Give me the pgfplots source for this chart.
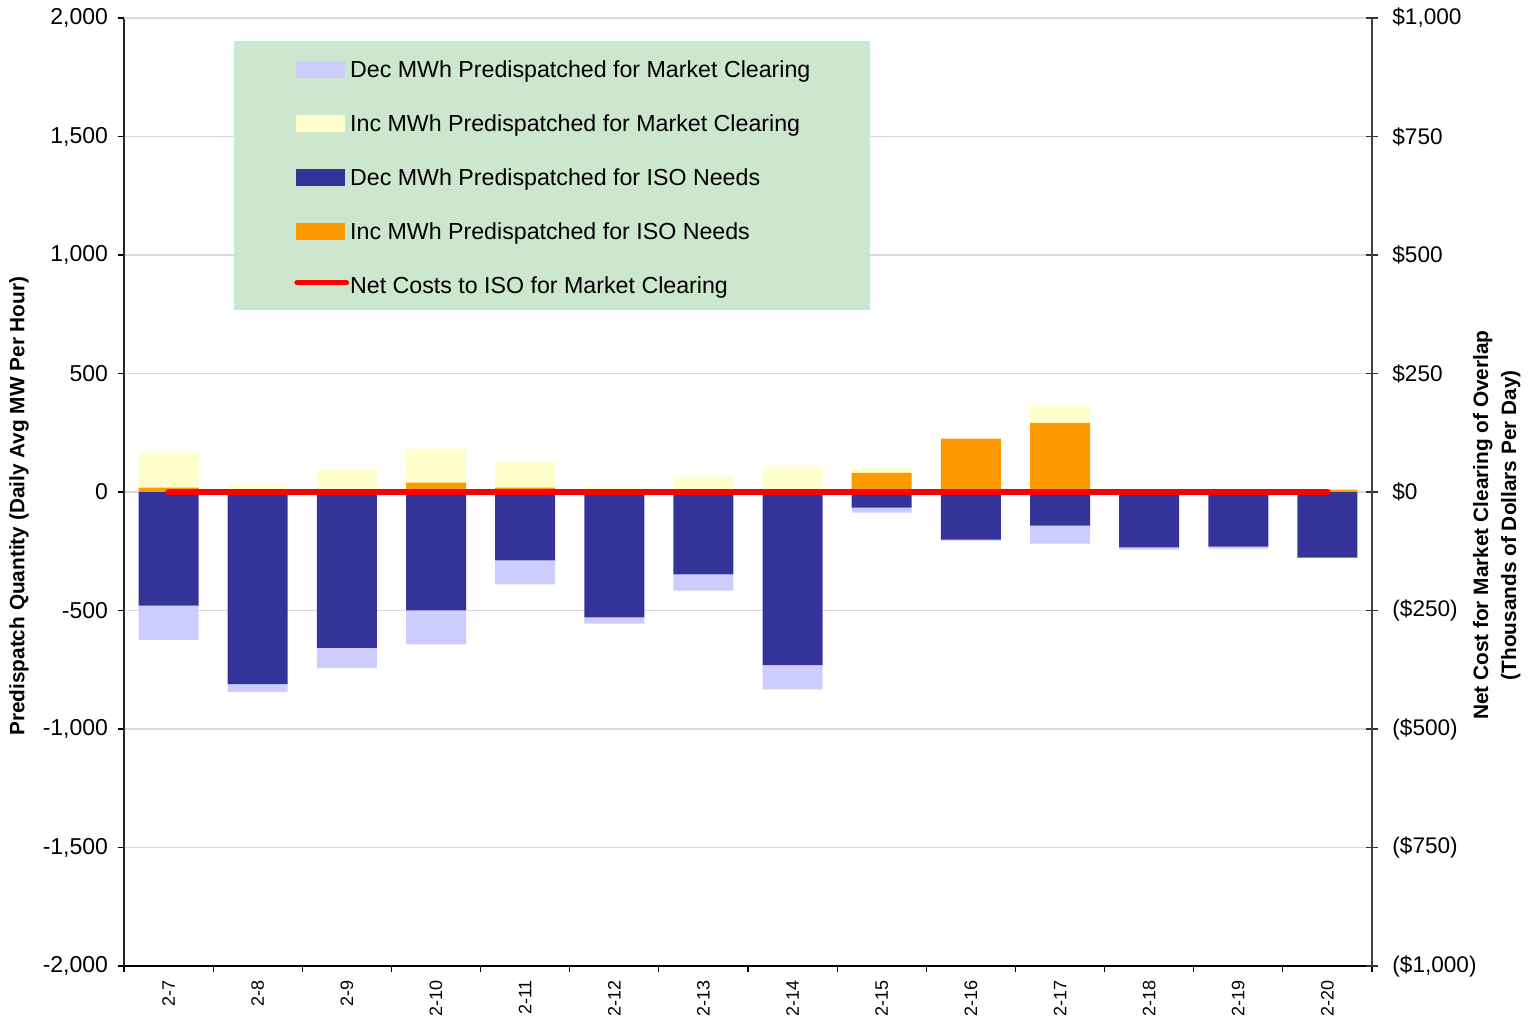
\documentclass[border=0pt]{standalone}
\usepackage{fontspec}
\setmainfont{Liberation Sans}
\usepackage{pgfplots}
\pgfplotsset{compat=1.18}
\usepackage{pgfplotstable}

\definecolor{lav}{HTML}{CCCCFF}
\definecolor{yel}{HTML}{FFFFCC}
\definecolor{dblue}{HTML}{333399}
\definecolor{orng}{HTML}{FF9900}
\definecolor{legbg}{RGB}{204,231,206}
\definecolor{gridc}{RGB}{217,217,217}

\pgfplotstableread{
idx decISO decMC incISO incMC net
0  -479 -146  18 148 0
1  -811  -33   0  30 0
2  -658  -85   0  94 0
3  -500 -143  39 143 0
4  -289 -101  18 107 0
5  -529  -26   0  22 0
6  -348  -68   0  65 0
7  -731 -102   0 107 0
8   -66  -21  81  21 0
9  -201   -4 225   0 0
10 -142  -76 292  76 0
11 -234   -9   0   0 0
12 -230   -9   0   0 0
13 -277    0  10   0 0
}\datatable

\pgfplotsset{
  base/.style={
    scale only axis, width=624bp, height=474bp,
    at={(62bp,26.5bp)}, anchor=south west,
    xmin=-0.5, xmax=13.5, enlargelimits=false,
  },
  swatch/.style={legend image code/.code={\fill[##1] (0bp,-0.2bp) rectangle (24.5bp,8.4bp);}},
  redswatch/.style={legend image code/.code={\draw[##1] (0.6bp,5.4bp) -- (25.5bp,5.4bp);}},
}

\begin{document}
\begin{tikzpicture}
\useasboundingbox (0,0) rectangle (768bp,509.5bp);
% main axis: negative stacks, grid, left axis, legend
\begin{axis}[base,
  ymin=-2000, ymax=2000,
  ybar stacked, bar width=30bp,
  axis x line*=bottom, axis y line*=left,
  x axis line style={-, black, line width=0.8bp},
  y axis line style={-, black!85, line width=1bp},
  ytick={-2000,-1500,...,2000},
  yticklabels={{-2,000},{-1,500},{-1,000},{-500},{0},{500},{1,000},{1,500},{2,000}},
  ymajorgrids, major grid style={gridc, line width=0.6bp},
  extra y ticks={2000}, extra y tick labels={},
  extra y tick style={grid style={gray, line width=0.8bp}},
  tick align=outside, major tick length=2.8bp,
  tick style={black, line width=0.6bp},
  xtick={-0.5,0.5,...,13.5},
  x tick label as interval,
  xticklabels={2-7,2-8,2-9,2-10,2-11,2-12,2-13,2-14,2-15,2-16,2-17,2-18,2-19,2-20},
  xticklabel style={yshift=-4bp, rotate=90, anchor=east, inner sep=0pt,
    font=\fontsize{9bp}{10bp}\selectfont},
  yticklabel style={anchor=east, inner sep=0pt, xshift=-5bp,
    font=\fontsize{11.5bp}{13bp}\selectfont},
  every axis y label/.style={at={(axis description cs:-0.0841,0.485)}, rotate=90, anchor=center,
    font=\fontsize{10.4bp}{12bp}\selectfont\bfseries},
  ylabel={Predispatch Quantity (Daily Avg MW Per Hour)},
  legend style={at={(axis description cs:0.0881,0.9757)}, anchor=north west,
    draw=none, fill=legbg, inner xsep=30bp, inner ysep=6bp,
    row sep=12.5bp, column sep=0.5bp,
    nodes={inner sep=0pt, text height=12.1bp, text depth=2.4bp},
    cells={anchor=base west},
    font=\fontsize{11.6bp}{13bp}\selectfont},
]
\addplot[fill=dblue, draw=none, forget plot] table[x=idx, y=decISO]{\datatable};
\addplot[fill=lav, draw=none, forget plot] table[x=idx, y=decMC]{\datatable};
\addlegendimage{swatch, fill=lav, draw=none}
\addlegendentry{Dec MWh Predispatched for Market Clearing}
\addlegendimage{swatch, fill=yel, draw=none}
\addlegendentry{Inc MWh Predispatched for Market Clearing}
\addlegendimage{swatch, fill=dblue, draw=none}
\addlegendentry{Dec MWh Predispatched for ISO Needs}
\addlegendimage{swatch, fill=orng, draw=none}
\addlegendentry{Inc MWh Predispatched for ISO Needs}
\addlegendimage{redswatch, red, line width=2.5bp, line cap=round}
\addlegendentry{Net Costs to ISO for Market Clearing}
\end{axis}
% overlay axis: positive stacks
\begin{axis}[base, hide axis,
  ymin=-2000, ymax=2000,
  ybar stacked, bar width=30bp,
]
\addplot[fill=orng, draw=none] table[x=idx, y=incISO]{\datatable};
\addplot[fill=yel, draw=none] table[x=idx, y=incMC]{\datatable};
\end{axis}
% right axis: net cost line
\begin{axis}[base,
  ymin=-1000, ymax=1000,
  axis x line=none, axis y line*=right,
  y axis line style={-, black!75, line width=1bp},
  ytick={-1000,-750,...,1000},
  yticklabels={{(\$1,000)},{(\$750)},{(\$500)},{(\$250)},{\$0},{\$250},{\$500},{\$750},{\$1,000}},
  tick align=center, major tick length=6bp,
  tick style={black!80, line width=0.6bp},
  yticklabel style={anchor=west, inner sep=0pt, xshift=7bp,
    font=\fontsize{11.3bp}{13bp}\selectfont},
  every axis y label/.style={at={(axis description cs:1.1,0.465)}, rotate=90, anchor=center,
    align=center, font=\fontsize{10.4bp}{14bp}\selectfont\bfseries},
  ylabel={Net Cost for Market Clearing of Overlap\\(Thousands of Dollars Per Day)},
]
\addplot[red, line width=3.3bp, line cap=round] table[x=idx, y=net]{\datatable};
\end{axis}
\end{tikzpicture}
\end{document}
